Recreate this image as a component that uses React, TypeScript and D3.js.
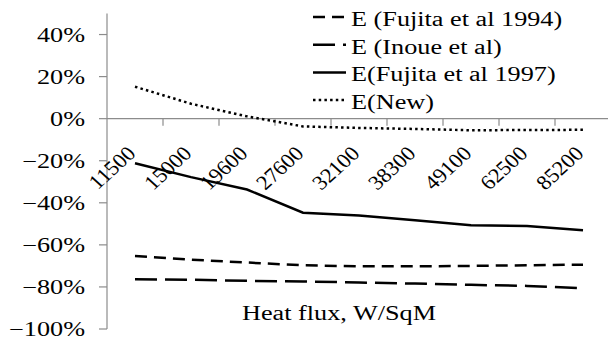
import React from 'react';
import * as d3 from 'd3';

const heatFlux = ['11500', '15000', '19600', '27600', '32100', '38300', '49100', '62500', '85200'];
const eFujita1994 = [-0.653, -0.67, -0.684, -0.697, -0.702, -0.702, -0.7, -0.697, -0.694];
const eInoue = [-0.763, -0.766, -0.771, -0.774, -0.779, -0.784, -0.79, -0.795, -0.806];
const eFujita1997 = [-0.212, -0.278, -0.337, -0.447, -0.46, -0.483, -0.507, -0.51, -0.53];
const eNew = [0.152, 0.071, 0.011, -0.037, -0.044, -0.049, -0.055, -0.054, -0.053];
const yTicks = [-1, -0.8, -0.6, -0.4, -0.2, 0, 0.2, 0.4];
const seriesNames = ['E (Fujita et al 1994)', 'E (Inoue et al)', 'E(Fujita et al 1997)', 'E(New)'];

const W = 608;
const H = 344;
const font = '"Liberation Serif", "Times New Roman", serif';
const fs = 20.5;
const sx = 1.28; // the picture is stretched sideways
const axisGrey = '#8c8c8c';

const series = [
  { name: seriesNames[0], values: eFujita1994, dash: '12,7' },
  { name: seriesNames[1], values: eInoue, dash: '22,8' },
  { name: seriesNames[2], values: eFujita1997, dash: null },
  { name: seriesNames[3], values: eNew, dash: '2.5,3.2' },
];

export default function App() {
  const x = d3.scaleBand().domain(heatFlux).range([107, 611]);
  const y = d3.scaleLinear().domain([-1, 0.5]).range([329, 13.5]);
  const cx = (d: string) => (x(d) as number) + x.bandwidth() / 2;
  const fmt = d3.format('.0%');

  const line = d3
    .line<number>()
    .x((_, i) => cx(heatFlux[i]))
    .y((v) => y(v));

  const y0 = y(0);

  return (
    <svg
      width={W}
      height={H}
      style={{ position: 'absolute', left: 0, top: 0, background: '#fff' }}
      fontFamily={font}
    >
      {/* y axis */}
      <line x1={107} x2={107} y1={y(0.5)} y2={y(-1)} stroke={axisGrey} strokeWidth={1.2} />
      {yTicks.map((t) => (
        <g key={t}>
          <line x1={99} x2={107} y1={y(t)} y2={y(t)} stroke={axisGrey} strokeWidth={1.2} />
          <text
            transform={`translate(85,${y(t) + 7}) scale(${sx},1)`}
            textAnchor="end"
            fontSize={fs}
            fill="#000"
          >
            {fmt(t)}
          </text>
        </g>
      ))}

      {/* x axis on the zero line */}
      <line x1={107} x2={611} y1={y0} y2={y0} stroke={axisGrey} strokeWidth={1.2} />
      {heatFlux.slice(1).map((d) => (
        <line
          key={d}
          x1={x(d) as number}
          x2={x(d) as number}
          y1={y0}
          y2={y0 + 7}
          stroke={axisGrey}
          strokeWidth={1.2}
        />
      ))}
      {heatFlux.map((d) => (
        <text
          key={d}
          transform={`translate(${cx(d) + 2},${y0 + 36}) scale(1.1,1) rotate(-45)`}
          textAnchor="end"
          fontSize={fs}
          fill="#000"
        >
          {d}
        </text>
      ))}
      <text
        transform={`translate(339,320) scale(${sx},1)`}
        textAnchor="middle"
        fontSize={fs}
        fill="#000"
      >
        Heat flux, W/SqM
      </text>

      {/* series */}
      {series.map((s) => (
        <path
          key={s.name}
          d={line(s.values) as string}
          fill="none"
          stroke="#000"
          strokeWidth={2.5}
          strokeDasharray={s.dash ?? undefined}
        />
      ))}

      {/* legend */}
      {series.map((s, i) => {
        const by = 26 + i * 27.7;
        return (
          <g key={s.name}>
            <line
              x1={313}
              x2={346}
              y1={by - 9}
              y2={by - 9}
              stroke="#000"
              strokeWidth={2.5}
              strokeDasharray={s.dash ?? undefined}
            />
            <text transform={`translate(351,${by}) scale(${sx},1)`} fontSize={fs} fill="#000">
              {s.name}
            </text>
          </g>
        );
      })}
    </svg>
  );
}
